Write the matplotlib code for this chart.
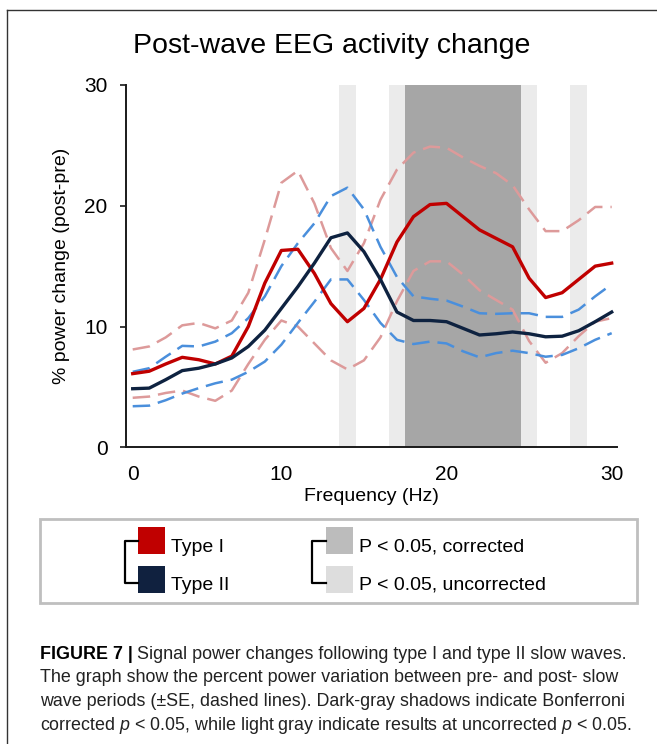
import numpy as np
import matplotlib
matplotlib.use("Agg")
import matplotlib.pyplot as plt
from matplotlib.patches import Rectangle
from matplotlib.lines import Line2D

plt.rcParams['font.family'] = ['Liberation Sans', 'DejaVu Sans']
plt.rcParams['mathtext.fontset'] = 'custom'
plt.rcParams['mathtext.rm'] = 'Liberation Sans'
plt.rcParams['mathtext.it'] = 'Liberation Sans:italic'

# data (frequency bins 1..30 Hz)
freq = np.arange(1, 31)
type1_mean = [6.1, 6.3, 6.9, 7.45, 7.25, 6.9, 7.55, 10.0, 13.6, 16.3,
              16.4, 14.4, 11.9, 10.4, 11.5, 13.9, 17.0, 19.1, 20.1, 20.2,
              19.1, 18.0, 17.3, 16.6, 14.0, 12.4, 12.8, 13.9, 15.0, 15.25]
type1_upper = [8.1, 8.35, 9.1, 10.1, 10.3, 9.85, 10.5, 12.8, 17.2, 21.9,
               22.9, 20.2, 16.5, 14.6, 16.9, 20.5, 23.0, 24.4, 24.9, 24.8,
               24.0, 23.3, 22.7, 21.7, 19.7, 17.9, 17.9, 18.8, 19.9, 19.9]
type1_lower = [4.1, 4.2, 4.5, 4.7, 4.2, 3.85, 4.7, 6.9, 8.9, 10.5,
               10.0, 8.6, 7.2, 6.45, 7.2, 9.1, 12.1, 14.6, 15.4, 15.4,
               14.3, 13.0, 12.2, 11.4, 8.8, 7.0, 7.8, 9.2, 10.4, 10.7]
type2_mean = [4.85, 4.9, 5.6, 6.35, 6.55, 6.9, 7.4, 8.35, 9.7, 11.5,
              13.3, 15.25, 17.35, 17.75, 16.2, 13.9, 11.2, 10.5, 10.5, 10.4,
              9.85, 9.3, 9.4, 9.55, 9.4, 9.15, 9.2, 9.65, 10.4, 11.2]
type2_upper = [6.25, 6.55, 7.5, 8.4, 8.35, 8.75, 9.45, 10.7, 12.5, 15.0,
               16.9, 18.55, 20.8, 21.5, 19.7, 16.6, 14.1, 12.5, 12.3, 12.15,
               11.65, 11.1, 11.05, 11.1, 11.1, 10.8, 10.8, 11.4, 12.5, 13.5]
type2_lower = [3.4, 3.45, 3.9, 4.45, 4.9, 5.3, 5.6, 6.25, 7.1, 8.5,
               10.3, 12.05, 13.9, 13.9, 12.2, 10.3, 8.9, 8.55, 8.75, 8.6,
               7.95, 7.45, 7.8, 8.0, 7.8, 7.5, 7.65, 8.2, 8.9, 9.45]

# significant bins
corrected_bins = [18, 19, 20, 21, 22, 23, 24]
uncorrected_bins = [14, 17, 25, 28]

W, H = 657, 744
fig = plt.figure(figsize=(W / 100, H / 100), dpi=100)


def fx(x):
    return x / W


def fy(y):
    return 1 - y / H


ax = fig.add_axes([fx(125.7), fy(447.3), (617.3 - 125.7) / W, (447.3 - 85) / H])

for f in corrected_bins:
    ax.axvspan(f - 0.5, f + 0.5, color='#a6a6a6', lw=0, zorder=0)
for f in uncorrected_bins:
    ax.axvspan(f - 0.5, f + 0.5, color='#ebebeb', lw=0, zorder=0)

dash = (0, (7, 3.2))
ax.plot(freq, type1_upper, color='#dd9a9a', lw=1.8, ls=dash, zorder=2)
ax.plot(freq, type1_lower, color='#dd9a9a', lw=1.8, ls=dash, zorder=2)
ax.plot(freq, type2_upper, color='#4a8fdc', lw=1.8, ls=dash, zorder=2)
ax.plot(freq, type2_lower, color='#4a8fdc', lw=1.8, ls=dash, zorder=2)
ax.plot(freq, type1_mean, color='#c00000', lw=2.4, zorder=3)
ax.plot(freq, type2_mean, color='#0e2240', lw=2.4, zorder=4)

ax.set_xlim(0.576, 30.34)
ax.set_ylim(0, 30)
ax.set_xticks([1, 10, 20, 30])
ax.set_xticklabels(['0', '10', '20', '30'])
ax.set_yticks([0, 10, 20, 30])
for s in ['top', 'right']:
    ax.spines[s].set_visible(False)
for s in ['left', 'bottom']:
    ax.spines[s].set_linewidth(1.4)
    ax.spines[s].set_color('#1a1a1a')
ax.tick_params(axis='x', length=0, pad=13, labelsize=15)
ax.tick_params(axis='y', length=4.5, width=1.2, pad=8.5, labelsize=15, color='#1a1a1a')
ax.patch.set_alpha(0)

ax.set_xlabel('Frequency (Hz)', fontsize=14)
ax.set_ylabel('% power change (post-pre)', fontsize=14)
ax.xaxis.set_label_coords(0.5, (447.3 - 488) / (447.3 - 85))
ax.yaxis.set_label_coords((70 - 125.7) / (617.3 - 125.7), 0.5)

fig.text(0.505, fy(53), 'Post-wave EEG activity change', fontsize=20.5,
         ha='center', va='baseline')

# frame around the figure panel
fig.add_artist(Line2D([fx(7), fx(7)], [0, fy(10)], color='#333333', lw=1))
fig.add_artist(Line2D([fx(7), 1], [fy(10), fy(10)], color='#333333', lw=1))

# legend box
fig.add_artist(Rectangle((fx(39.5), fy(603)), fx(637) - fx(39.5), fy(519) - fy(603),
                         transform=fig.transFigure, fill=False,
                         edgecolor='#bfbfbf', lw=2))


def bracket(x0, x1, y0, y1):
    fig.add_artist(Line2D([fx(x1), fx(x0), fx(x0), fx(x1)],
                          [fy(y0), fy(y0), fy(y1), fy(y1)],
                          color='black', lw=1.6))


def swatch(x, y, color):
    fig.add_artist(Rectangle((fx(x), fy(y + 27)), 27 / W, 27 / H,
                             transform=fig.transFigure, color=color, lw=0))


bracket(125, 138, 541, 583)
swatch(138, 527, '#c00000')
swatch(138, 566, '#10213f')
fig.text(fx(171), fy(551.5), 'Type I', fontsize=14, va='baseline')
fig.text(fx(171), fy(589.5), 'Type II', fontsize=14, va='baseline')

bracket(312, 326, 541, 583)
swatch(326, 527, '#bcbcbc')
swatch(326, 566, '#dddddd')
fig.text(fx(359), fy(551.5), 'P < 0.05, corrected', fontsize=14, va='baseline')
fig.text(fx(359), fy(589.5), 'P < 0.05, uncorrected', fontsize=14, va='baseline')

# caption
renderer = fig.canvas.get_renderer()
cap_size = 12.9
t = fig.text(fx(40), fy(659), 'FIGURE 7 |', fontsize=cap_size, weight='bold',
             va='baseline')
bb = t.get_window_extent(renderer)
fig.text(bb.x1 / W + 4 / W, fy(659),
         'Signal power changes following type I and type II slow waves.',
         fontsize=cap_size, va='baseline', color='#222222')
lines = [
    'The graph show the percent power variation between pre- and post- slow',
    'wave periods (\u00b1SE, dashed lines). Dark-gray shadows indicate Bonferroni',
    'corrected $p$ < 0.05, while light gray indicate results at uncorrected $p$ < 0.05.',
]
for i, line in enumerate(lines):
    fig.text(fx(40), fy(682.5 + 23.5 * i), line, fontsize=cap_size,
             va='baseline', color='#222222')

fig.savefig('out.png', dpi=100)
